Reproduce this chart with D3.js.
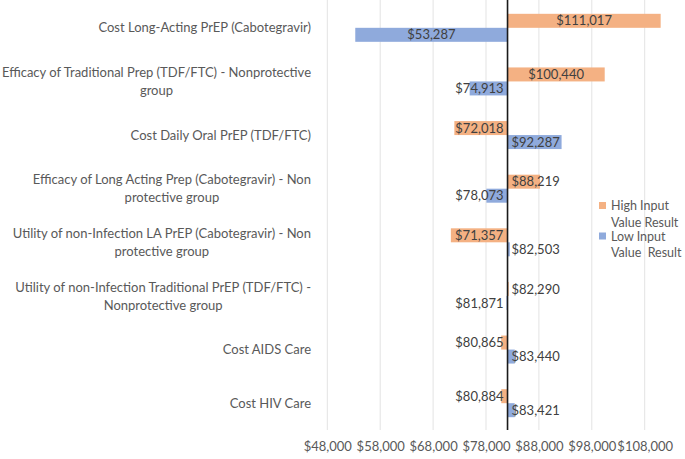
<!DOCTYPE html>
<html><head><meta charset="utf-8">
<script src="https://cdn.jsdelivr.net/npm/d3@7/dist/d3.min.js"></script>
<style>body{margin:0;background:#fff;} svg{display:block;font-family:Lato,"Open Sans",sans-serif;}</style>
</head><body><svg id="c" width="685" height="459"></svg>
<script>
const categories = [
  ["Cost Long-Acting PrEP (Cabotegravir)"],
  ["Efficacy of Traditional Prep (TDF/FTC) - Nonprotective", "group"],
  ["Cost Daily Oral PrEP (TDF/FTC)"],
  ["Efficacy of Long Acting Prep (Cabotegravir) - Non", "protective group"],
  ["Utility of non-Infection LA PrEP (Cabotegravir) - Non", "protective group"],
  ["Utility of non-Infection Traditional PrEP (TDF/FTC) -", "Nonprotective group"],
  ["Cost AIDS Care"],
  ["Cost HIV Care"]
];
const highValues = [111017, 100440, 72018, 88219, 71357, 82290, 80865, 80884];
const lowValues  = [53287, 74913, 92287, 78073, 82503, 81871, 83440, 83421];
const baseValue = 82070;
const tickValues = [48000, 58000, 68000, 78000, 88000, 98000, 108000];
const seriesNames = [["High Input", "Value Result"], ["Low Input", "Value  Result"]];

const svg = d3.select("#c");
const x = d3.scaleLinear().domain([48000, 108000]).range([327.3, 644.7]);
const y = d3.scaleBand().domain(d3.range(categories.length)).range([1, 430]).paddingInner(0).paddingOuter(0);
const fmt = v => "$" + d3.format(",")(v);
const colors = ["#F4B183", "#8FAADC"];
const barH = 14;
const fs = 13;

// gridlines
svg.append("g").selectAll("line").data(tickValues).join("line")
  .attr("x1", d => x(d)).attr("x2", d => x(d)).attr("y1", 0).attr("y2", 430)
  .attr("stroke", "#e3e3e3").attr("stroke-width", 1);

// tick labels
const xAxis = d3.axisBottom(x).tickValues(tickValues).tickFormat(fmt).tickSize(0).tickPadding(0);
const ax = svg.append("g").attr("transform", "translate(0,442)").call(xAxis);
ax.select(".domain").remove();
ax.selectAll("text").attr("font-size", fs).attr("fill", "#595959").attr("font-family", "Lato");

// bars
const bx = x(baseValue);
const series = [highValues, lowValues];
series.forEach((vals, s) => {
  const g = svg.append("g");
  vals.forEach((v, i) => {
    const y0 = y(i) + y.bandwidth() / 2 - barH + s * barH;
    g.append("rect").attr("x", Math.min(x(v), bx)).attr("width", Math.abs(x(v) - bx))
      .attr("y", y0).attr("height", barH).attr("fill", colors[s]);
  });
});

// base axis line
svg.append("line").attr("x1", bx).attr("x2", bx).attr("y1", 0).attr("y2", 430)
  .attr("stroke", "#1a1a1a").attr("stroke-width", 1.6);

// data labels
series.forEach((vals, s) => {
  vals.forEach((v, i) => {
    const yc = y(i) + y.bandwidth() / 2 - barH / 2 + s * barH;
    const t = svg.append("text").text(fmt(v)).attr("font-size", fs).attr("fill", "#404040")
      .attr("y", yc).attr("dy", "0.36em");
    const w = t.node().getComputedTextLength();
    const c = (x(v) + bx) / 2;
    let left;
    if (v >= baseValue) left = Math.max(bx + 4, c - w / 2);
    else left = Math.min(bx - 4 - w, c - w / 2);
    t.attr("x", left);
  });
});

// category labels
const rightEdge = 311;
categories.forEach((lines, i) => {
  const t = svg.append("text").attr("font-size", fs).attr("fill", "#595959").attr("text-anchor", "middle");
  const lh = 18;
  const yc = y(i) + y.bandwidth() / 2;
  const spans = lines.map((l, k) => t.append("tspan").text(l)
    .attr("y", yc + (k - (lines.length - 1) / 2) * lh).attr("dy", "0.36em"));
  const maxW = d3.max(spans, sp => sp.node().getComputedTextLength());
  spans.forEach(sp => sp.attr("x", rightEdge - maxW / 2));
});

// legend
const lg = svg.append("g");
const legY = [205.5, 236];
seriesNames.forEach((nm, s) => {
  lg.append("rect").attr("x", 599).attr("y", legY[s] - 3.5).attr("width", 7).attr("height", 7).attr("fill", colors[s]);
  nm.forEach((l, k) => {
    lg.append("text").text(l).attr("x", 611).attr("y", legY[s] + k * 16.5).attr("dy", "0.36em")
      .attr("font-size", 12.5).attr("fill", "#595959").style("white-space", "pre").attr("xml:space", "preserve");
  });
});
</script></body></html>
